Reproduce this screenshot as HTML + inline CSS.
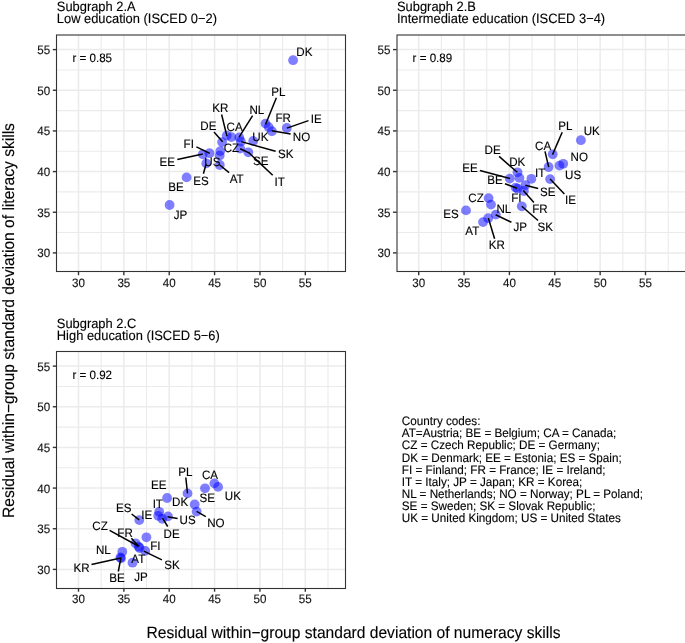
<!DOCTYPE html>
<html><head><meta charset="utf-8"><style>
html,body{margin:0;padding:0;background:#fff;width:685px;height:643px;overflow:hidden}
svg{display:block;will-change:transform}
text{font-family:"Liberation Sans", sans-serif;text-rendering:geometricPrecision;stroke-width:0.12px;paint-order:stroke}
.tk{font-size:11.6px;fill:#111;stroke:#111}
.lb{stroke:#000;font-size:11.6px;fill:#000}
.ti{stroke:#000;font-size:12.9px;fill:#000}
.ax{stroke:#000;font-size:15.6px;fill:#000}
.lg{stroke:#000;font-size:11.7px;fill:#000}
.rt{stroke:#000;font-size:11.6px;fill:#000}
</style></head><body>
<svg width="685" height="643" viewBox="0 0 685 643">
<rect width="685" height="643" fill="#fff"/>
<g>
<rect x="56.5" y="35.0" width="289.0" height="236.5" fill="#fff"/>
<line x1="101.18" y1="35.0" x2="101.18" y2="271.5" stroke="#EBEBEB" stroke-width="1.1"/>
<line x1="146.54" y1="35.0" x2="146.54" y2="271.5" stroke="#EBEBEB" stroke-width="1.1"/>
<line x1="191.90" y1="35.0" x2="191.90" y2="271.5" stroke="#EBEBEB" stroke-width="1.1"/>
<line x1="237.26" y1="35.0" x2="237.26" y2="271.5" stroke="#EBEBEB" stroke-width="1.1"/>
<line x1="282.62" y1="35.0" x2="282.62" y2="271.5" stroke="#EBEBEB" stroke-width="1.1"/>
<line x1="327.98" y1="35.0" x2="327.98" y2="271.5" stroke="#EBEBEB" stroke-width="1.1"/>
<line x1="56.5" y1="232.57" x2="345.5" y2="232.57" stroke="#EBEBEB" stroke-width="1.1"/>
<line x1="56.5" y1="191.91" x2="345.5" y2="191.91" stroke="#EBEBEB" stroke-width="1.1"/>
<line x1="56.5" y1="151.25" x2="345.5" y2="151.25" stroke="#EBEBEB" stroke-width="1.1"/>
<line x1="56.5" y1="110.59" x2="345.5" y2="110.59" stroke="#EBEBEB" stroke-width="1.1"/>
<line x1="56.5" y1="69.93" x2="345.5" y2="69.93" stroke="#EBEBEB" stroke-width="1.1"/>
<line x1="78.50" y1="35.0" x2="78.50" y2="271.5" stroke="#EBEBEB" stroke-width="1.5"/>
<line x1="56.5" y1="252.90" x2="345.5" y2="252.90" stroke="#EBEBEB" stroke-width="1.5"/>
<line x1="123.86" y1="35.0" x2="123.86" y2="271.5" stroke="#EBEBEB" stroke-width="1.5"/>
<line x1="56.5" y1="212.24" x2="345.5" y2="212.24" stroke="#EBEBEB" stroke-width="1.5"/>
<line x1="169.22" y1="35.0" x2="169.22" y2="271.5" stroke="#EBEBEB" stroke-width="1.5"/>
<line x1="56.5" y1="171.58" x2="345.5" y2="171.58" stroke="#EBEBEB" stroke-width="1.5"/>
<line x1="214.58" y1="35.0" x2="214.58" y2="271.5" stroke="#EBEBEB" stroke-width="1.5"/>
<line x1="56.5" y1="130.92" x2="345.5" y2="130.92" stroke="#EBEBEB" stroke-width="1.5"/>
<line x1="259.94" y1="35.0" x2="259.94" y2="271.5" stroke="#EBEBEB" stroke-width="1.5"/>
<line x1="56.5" y1="90.26" x2="345.5" y2="90.26" stroke="#EBEBEB" stroke-width="1.5"/>
<line x1="305.30" y1="35.0" x2="305.30" y2="271.5" stroke="#EBEBEB" stroke-width="1.5"/>
<line x1="56.5" y1="49.60" x2="345.5" y2="49.60" stroke="#EBEBEB" stroke-width="1.5"/>
</g>
<line x1="78.50" y1="271.5" x2="78.50" y2="275.2" stroke="#333" stroke-width="1.4"/>
<text transform="translate(78.50,286.70) scale(1,1.05)" text-anchor="middle" class="tk">30</text>
<line x1="52.8" y1="252.90" x2="56.5" y2="252.90" stroke="#333" stroke-width="1.4"/>
<text transform="translate(50.20,257.40) scale(1,1.05)" text-anchor="end" class="tk">30</text>
<line x1="123.86" y1="271.5" x2="123.86" y2="275.2" stroke="#333" stroke-width="1.4"/>
<text transform="translate(123.86,286.70) scale(1,1.05)" text-anchor="middle" class="tk">35</text>
<line x1="52.8" y1="212.24" x2="56.5" y2="212.24" stroke="#333" stroke-width="1.4"/>
<text transform="translate(50.20,216.74) scale(1,1.05)" text-anchor="end" class="tk">35</text>
<line x1="169.22" y1="271.5" x2="169.22" y2="275.2" stroke="#333" stroke-width="1.4"/>
<text transform="translate(169.22,286.70) scale(1,1.05)" text-anchor="middle" class="tk">40</text>
<line x1="52.8" y1="171.58" x2="56.5" y2="171.58" stroke="#333" stroke-width="1.4"/>
<text transform="translate(50.20,176.08) scale(1,1.05)" text-anchor="end" class="tk">40</text>
<line x1="214.58" y1="271.5" x2="214.58" y2="275.2" stroke="#333" stroke-width="1.4"/>
<text transform="translate(214.58,286.70) scale(1,1.05)" text-anchor="middle" class="tk">45</text>
<line x1="52.8" y1="130.92" x2="56.5" y2="130.92" stroke="#333" stroke-width="1.4"/>
<text transform="translate(50.20,135.42) scale(1,1.05)" text-anchor="end" class="tk">45</text>
<line x1="259.94" y1="271.5" x2="259.94" y2="275.2" stroke="#333" stroke-width="1.4"/>
<text transform="translate(259.94,286.70) scale(1,1.05)" text-anchor="middle" class="tk">50</text>
<line x1="52.8" y1="90.26" x2="56.5" y2="90.26" stroke="#333" stroke-width="1.4"/>
<text transform="translate(50.20,94.76) scale(1,1.05)" text-anchor="end" class="tk">50</text>
<line x1="305.30" y1="271.5" x2="305.30" y2="275.2" stroke="#333" stroke-width="1.4"/>
<text transform="translate(305.30,286.70) scale(1,1.05)" text-anchor="middle" class="tk">55</text>
<line x1="52.8" y1="49.60" x2="56.5" y2="49.60" stroke="#333" stroke-width="1.4"/>
<text transform="translate(50.20,54.10) scale(1,1.05)" text-anchor="end" class="tk">55</text>
<text transform="translate(56.80,11.10) scale(1,1.05)" class="ti">Subgraph 2.A</text>
<text transform="translate(56.80,22.90) scale(1,1.05)" class="ti">Low education (ISCED 0−2)</text>
<text transform="translate(92.20,61.80) scale(1,1.05)" text-anchor="middle" class="rt">r = 0.85</text>
<g>
<rect x="396.7" y="35.0" width="289.00000000000006" height="236.5" fill="#fff"/>
<line x1="441.38" y1="35.0" x2="441.38" y2="271.5" stroke="#EBEBEB" stroke-width="1.1"/>
<line x1="486.74" y1="35.0" x2="486.74" y2="271.5" stroke="#EBEBEB" stroke-width="1.1"/>
<line x1="532.10" y1="35.0" x2="532.10" y2="271.5" stroke="#EBEBEB" stroke-width="1.1"/>
<line x1="577.46" y1="35.0" x2="577.46" y2="271.5" stroke="#EBEBEB" stroke-width="1.1"/>
<line x1="622.82" y1="35.0" x2="622.82" y2="271.5" stroke="#EBEBEB" stroke-width="1.1"/>
<line x1="668.18" y1="35.0" x2="668.18" y2="271.5" stroke="#EBEBEB" stroke-width="1.1"/>
<line x1="396.7" y1="232.57" x2="685.7" y2="232.57" stroke="#EBEBEB" stroke-width="1.1"/>
<line x1="396.7" y1="191.91" x2="685.7" y2="191.91" stroke="#EBEBEB" stroke-width="1.1"/>
<line x1="396.7" y1="151.25" x2="685.7" y2="151.25" stroke="#EBEBEB" stroke-width="1.1"/>
<line x1="396.7" y1="110.59" x2="685.7" y2="110.59" stroke="#EBEBEB" stroke-width="1.1"/>
<line x1="396.7" y1="69.93" x2="685.7" y2="69.93" stroke="#EBEBEB" stroke-width="1.1"/>
<line x1="418.70" y1="35.0" x2="418.70" y2="271.5" stroke="#EBEBEB" stroke-width="1.5"/>
<line x1="396.7" y1="252.90" x2="685.7" y2="252.90" stroke="#EBEBEB" stroke-width="1.5"/>
<line x1="464.06" y1="35.0" x2="464.06" y2="271.5" stroke="#EBEBEB" stroke-width="1.5"/>
<line x1="396.7" y1="212.24" x2="685.7" y2="212.24" stroke="#EBEBEB" stroke-width="1.5"/>
<line x1="509.42" y1="35.0" x2="509.42" y2="271.5" stroke="#EBEBEB" stroke-width="1.5"/>
<line x1="396.7" y1="171.58" x2="685.7" y2="171.58" stroke="#EBEBEB" stroke-width="1.5"/>
<line x1="554.78" y1="35.0" x2="554.78" y2="271.5" stroke="#EBEBEB" stroke-width="1.5"/>
<line x1="396.7" y1="130.92" x2="685.7" y2="130.92" stroke="#EBEBEB" stroke-width="1.5"/>
<line x1="600.14" y1="35.0" x2="600.14" y2="271.5" stroke="#EBEBEB" stroke-width="1.5"/>
<line x1="396.7" y1="90.26" x2="685.7" y2="90.26" stroke="#EBEBEB" stroke-width="1.5"/>
<line x1="645.50" y1="35.0" x2="645.50" y2="271.5" stroke="#EBEBEB" stroke-width="1.5"/>
<line x1="396.7" y1="49.60" x2="685.7" y2="49.60" stroke="#EBEBEB" stroke-width="1.5"/>
</g>
<line x1="418.70" y1="271.5" x2="418.70" y2="275.2" stroke="#333" stroke-width="1.4"/>
<text transform="translate(418.70,286.70) scale(1,1.05)" text-anchor="middle" class="tk">30</text>
<line x1="393.0" y1="252.90" x2="396.7" y2="252.90" stroke="#333" stroke-width="1.4"/>
<text transform="translate(390.40,257.40) scale(1,1.05)" text-anchor="end" class="tk">30</text>
<line x1="464.06" y1="271.5" x2="464.06" y2="275.2" stroke="#333" stroke-width="1.4"/>
<text transform="translate(464.06,286.70) scale(1,1.05)" text-anchor="middle" class="tk">35</text>
<line x1="393.0" y1="212.24" x2="396.7" y2="212.24" stroke="#333" stroke-width="1.4"/>
<text transform="translate(390.40,216.74) scale(1,1.05)" text-anchor="end" class="tk">35</text>
<line x1="509.42" y1="271.5" x2="509.42" y2="275.2" stroke="#333" stroke-width="1.4"/>
<text transform="translate(509.42,286.70) scale(1,1.05)" text-anchor="middle" class="tk">40</text>
<line x1="393.0" y1="171.58" x2="396.7" y2="171.58" stroke="#333" stroke-width="1.4"/>
<text transform="translate(390.40,176.08) scale(1,1.05)" text-anchor="end" class="tk">40</text>
<line x1="554.78" y1="271.5" x2="554.78" y2="275.2" stroke="#333" stroke-width="1.4"/>
<text transform="translate(554.78,286.70) scale(1,1.05)" text-anchor="middle" class="tk">45</text>
<line x1="393.0" y1="130.92" x2="396.7" y2="130.92" stroke="#333" stroke-width="1.4"/>
<text transform="translate(390.40,135.42) scale(1,1.05)" text-anchor="end" class="tk">45</text>
<line x1="600.14" y1="271.5" x2="600.14" y2="275.2" stroke="#333" stroke-width="1.4"/>
<text transform="translate(600.14,286.70) scale(1,1.05)" text-anchor="middle" class="tk">50</text>
<line x1="393.0" y1="90.26" x2="396.7" y2="90.26" stroke="#333" stroke-width="1.4"/>
<text transform="translate(390.40,94.76) scale(1,1.05)" text-anchor="end" class="tk">50</text>
<line x1="645.50" y1="271.5" x2="645.50" y2="275.2" stroke="#333" stroke-width="1.4"/>
<text transform="translate(645.50,286.70) scale(1,1.05)" text-anchor="middle" class="tk">55</text>
<line x1="393.0" y1="49.60" x2="396.7" y2="49.60" stroke="#333" stroke-width="1.4"/>
<text transform="translate(390.40,54.10) scale(1,1.05)" text-anchor="end" class="tk">55</text>
<text transform="translate(397.00,11.10) scale(1,1.05)" class="ti">Subgraph 2.B</text>
<text transform="translate(397.00,22.90) scale(1,1.05)" class="ti">Intermediate education (ISCED 3−4)</text>
<text transform="translate(432.40,61.80) scale(1,1.05)" text-anchor="middle" class="rt">r = 0.89</text>
<g>
<rect x="56.5" y="351.5" width="289.0" height="236.5" fill="#fff"/>
<line x1="101.18" y1="351.5" x2="101.18" y2="588.0" stroke="#EBEBEB" stroke-width="1.1"/>
<line x1="146.54" y1="351.5" x2="146.54" y2="588.0" stroke="#EBEBEB" stroke-width="1.1"/>
<line x1="191.90" y1="351.5" x2="191.90" y2="588.0" stroke="#EBEBEB" stroke-width="1.1"/>
<line x1="237.26" y1="351.5" x2="237.26" y2="588.0" stroke="#EBEBEB" stroke-width="1.1"/>
<line x1="282.62" y1="351.5" x2="282.62" y2="588.0" stroke="#EBEBEB" stroke-width="1.1"/>
<line x1="327.98" y1="351.5" x2="327.98" y2="588.0" stroke="#EBEBEB" stroke-width="1.1"/>
<line x1="56.5" y1="549.07" x2="345.5" y2="549.07" stroke="#EBEBEB" stroke-width="1.1"/>
<line x1="56.5" y1="508.41" x2="345.5" y2="508.41" stroke="#EBEBEB" stroke-width="1.1"/>
<line x1="56.5" y1="467.75" x2="345.5" y2="467.75" stroke="#EBEBEB" stroke-width="1.1"/>
<line x1="56.5" y1="427.09" x2="345.5" y2="427.09" stroke="#EBEBEB" stroke-width="1.1"/>
<line x1="56.5" y1="386.43" x2="345.5" y2="386.43" stroke="#EBEBEB" stroke-width="1.1"/>
<line x1="78.50" y1="351.5" x2="78.50" y2="588.0" stroke="#EBEBEB" stroke-width="1.5"/>
<line x1="56.5" y1="569.40" x2="345.5" y2="569.40" stroke="#EBEBEB" stroke-width="1.5"/>
<line x1="123.86" y1="351.5" x2="123.86" y2="588.0" stroke="#EBEBEB" stroke-width="1.5"/>
<line x1="56.5" y1="528.74" x2="345.5" y2="528.74" stroke="#EBEBEB" stroke-width="1.5"/>
<line x1="169.22" y1="351.5" x2="169.22" y2="588.0" stroke="#EBEBEB" stroke-width="1.5"/>
<line x1="56.5" y1="488.08" x2="345.5" y2="488.08" stroke="#EBEBEB" stroke-width="1.5"/>
<line x1="214.58" y1="351.5" x2="214.58" y2="588.0" stroke="#EBEBEB" stroke-width="1.5"/>
<line x1="56.5" y1="447.42" x2="345.5" y2="447.42" stroke="#EBEBEB" stroke-width="1.5"/>
<line x1="259.94" y1="351.5" x2="259.94" y2="588.0" stroke="#EBEBEB" stroke-width="1.5"/>
<line x1="56.5" y1="406.76" x2="345.5" y2="406.76" stroke="#EBEBEB" stroke-width="1.5"/>
<line x1="305.30" y1="351.5" x2="305.30" y2="588.0" stroke="#EBEBEB" stroke-width="1.5"/>
<line x1="56.5" y1="366.10" x2="345.5" y2="366.10" stroke="#EBEBEB" stroke-width="1.5"/>
</g>
<line x1="78.50" y1="588.0" x2="78.50" y2="591.7" stroke="#333" stroke-width="1.4"/>
<text transform="translate(78.50,603.20) scale(1,1.05)" text-anchor="middle" class="tk">30</text>
<line x1="52.8" y1="569.40" x2="56.5" y2="569.40" stroke="#333" stroke-width="1.4"/>
<text transform="translate(50.20,573.90) scale(1,1.05)" text-anchor="end" class="tk">30</text>
<line x1="123.86" y1="588.0" x2="123.86" y2="591.7" stroke="#333" stroke-width="1.4"/>
<text transform="translate(123.86,603.20) scale(1,1.05)" text-anchor="middle" class="tk">35</text>
<line x1="52.8" y1="528.74" x2="56.5" y2="528.74" stroke="#333" stroke-width="1.4"/>
<text transform="translate(50.20,533.24) scale(1,1.05)" text-anchor="end" class="tk">35</text>
<line x1="169.22" y1="588.0" x2="169.22" y2="591.7" stroke="#333" stroke-width="1.4"/>
<text transform="translate(169.22,603.20) scale(1,1.05)" text-anchor="middle" class="tk">40</text>
<line x1="52.8" y1="488.08" x2="56.5" y2="488.08" stroke="#333" stroke-width="1.4"/>
<text transform="translate(50.20,492.58) scale(1,1.05)" text-anchor="end" class="tk">40</text>
<line x1="214.58" y1="588.0" x2="214.58" y2="591.7" stroke="#333" stroke-width="1.4"/>
<text transform="translate(214.58,603.20) scale(1,1.05)" text-anchor="middle" class="tk">45</text>
<line x1="52.8" y1="447.42" x2="56.5" y2="447.42" stroke="#333" stroke-width="1.4"/>
<text transform="translate(50.20,451.92) scale(1,1.05)" text-anchor="end" class="tk">45</text>
<line x1="259.94" y1="588.0" x2="259.94" y2="591.7" stroke="#333" stroke-width="1.4"/>
<text transform="translate(259.94,603.20) scale(1,1.05)" text-anchor="middle" class="tk">50</text>
<line x1="52.8" y1="406.76" x2="56.5" y2="406.76" stroke="#333" stroke-width="1.4"/>
<text transform="translate(50.20,411.26) scale(1,1.05)" text-anchor="end" class="tk">50</text>
<line x1="305.30" y1="588.0" x2="305.30" y2="591.7" stroke="#333" stroke-width="1.4"/>
<text transform="translate(305.30,603.20) scale(1,1.05)" text-anchor="middle" class="tk">55</text>
<line x1="52.8" y1="366.10" x2="56.5" y2="366.10" stroke="#333" stroke-width="1.4"/>
<text transform="translate(50.20,370.60) scale(1,1.05)" text-anchor="end" class="tk">55</text>
<text transform="translate(56.80,327.60) scale(1,1.05)" class="ti">Subgraph 2.C</text>
<text transform="translate(56.80,339.90) scale(1,1.05)" class="ti">High education (ISCED 5−6)</text>
<text transform="translate(92.20,378.90) scale(1,1.05)" text-anchor="middle" class="rt">r = 0.92</text>
<circle cx="293.1" cy="60.2" r="4.9" fill="rgb(0,0,255)" fill-opacity="0.5"/>
<circle cx="265.5" cy="123.6" r="4.9" fill="rgb(0,0,255)" fill-opacity="0.5"/>
<circle cx="268.7" cy="127.1" r="4.9" fill="rgb(0,0,255)" fill-opacity="0.5"/>
<circle cx="271.9" cy="131.2" r="4.9" fill="rgb(0,0,255)" fill-opacity="0.5"/>
<circle cx="286.8" cy="128.0" r="4.9" fill="rgb(0,0,255)" fill-opacity="0.5"/>
<circle cx="253.2" cy="141.0" r="4.9" fill="rgb(0,0,255)" fill-opacity="0.5"/>
<circle cx="226.7" cy="135.6" r="4.9" fill="rgb(0,0,255)" fill-opacity="0.5"/>
<circle cx="231.4" cy="137.1" r="4.9" fill="rgb(0,0,255)" fill-opacity="0.5"/>
<circle cx="239.3" cy="137.4" r="4.9" fill="rgb(0,0,255)" fill-opacity="0.5"/>
<circle cx="222.1" cy="142.1" r="4.9" fill="rgb(0,0,255)" fill-opacity="0.5"/>
<circle cx="240.9" cy="141.5" r="4.9" fill="rgb(0,0,255)" fill-opacity="0.5"/>
<circle cx="240.1" cy="148.5" r="4.9" fill="rgb(0,0,255)" fill-opacity="0.5"/>
<circle cx="248.3" cy="152.3" r="4.9" fill="rgb(0,0,255)" fill-opacity="0.5"/>
<circle cx="220.3" cy="151.1" r="4.9" fill="rgb(0,0,255)" fill-opacity="0.5"/>
<circle cx="219.7" cy="155.6" r="4.9" fill="rgb(0,0,255)" fill-opacity="0.5"/>
<circle cx="209.5" cy="153.2" r="4.9" fill="rgb(0,0,255)" fill-opacity="0.5"/>
<circle cx="202.8" cy="154.3" r="4.9" fill="rgb(0,0,255)" fill-opacity="0.5"/>
<circle cx="206.3" cy="163.4" r="4.9" fill="rgb(0,0,255)" fill-opacity="0.5"/>
<circle cx="219.8" cy="165.0" r="4.9" fill="rgb(0,0,255)" fill-opacity="0.5"/>
<circle cx="186.6" cy="177.4" r="4.9" fill="rgb(0,0,255)" fill-opacity="0.5"/>
<circle cx="169.6" cy="205.0" r="4.9" fill="rgb(0,0,255)" fill-opacity="0.5"/>
<line x1="276.4" y1="97.8" x2="265.5" y2="124.5" stroke="#000" stroke-width="1.5" stroke-linecap="butt"/>
<line x1="308.5" y1="120.6" x2="286.9" y2="128.1" stroke="#000" stroke-width="1.5" stroke-linecap="butt"/>
<line x1="271.7" y1="130.8" x2="290.6" y2="134.0" stroke="#000" stroke-width="1.5" stroke-linecap="butt"/>
<line x1="221.6" y1="114.5" x2="226.9" y2="136.1" stroke="#000" stroke-width="1.5" stroke-linecap="butt"/>
<line x1="252.6" y1="115.6" x2="239.1" y2="137.2" stroke="#000" stroke-width="1.5" stroke-linecap="butt"/>
<line x1="214.0" y1="131.9" x2="222.6" y2="141.7" stroke="#000" stroke-width="1.5" stroke-linecap="butt"/>
<line x1="241.2" y1="141.6" x2="275.6" y2="151.3" stroke="#000" stroke-width="1.5" stroke-linecap="butt"/>
<line x1="248.4" y1="152.3" x2="272.7" y2="175.3" stroke="#000" stroke-width="1.5" stroke-linecap="butt"/>
<line x1="240.2" y1="148.7" x2="249.0" y2="152.9" stroke="#000" stroke-width="1.5" stroke-linecap="butt"/>
<line x1="196.4" y1="146.9" x2="209.8" y2="153.4" stroke="#000" stroke-width="1.5" stroke-linecap="butt"/>
<line x1="177.3" y1="159.4" x2="202.8" y2="154.0" stroke="#000" stroke-width="1.5" stroke-linecap="butt"/>
<line x1="203.4" y1="173.8" x2="205.9" y2="164.5" stroke="#000" stroke-width="1.5" stroke-linecap="butt"/>
<line x1="219.7" y1="165.0" x2="229.1" y2="172.6" stroke="#000" stroke-width="1.5" stroke-linecap="butt"/>
<text transform="translate(304.35,56.20) scale(1,1.05)" text-anchor="middle" class="lb">DK</text>
<text transform="translate(278.40,96.20) scale(1,1.05)" text-anchor="middle" class="lb">PL</text>
<text transform="translate(283.20,122.20) scale(1,1.05)" text-anchor="middle" class="lb">FR</text>
<text transform="translate(316.20,123.00) scale(1,1.05)" text-anchor="middle" class="lb">IE</text>
<text transform="translate(301.50,140.60) scale(1,1.05)" text-anchor="middle" class="lb">NO</text>
<text transform="translate(260.40,140.50) scale(1,1.05)" text-anchor="middle" class="lb">UK</text>
<text transform="translate(220.30,111.90) scale(1,1.05)" text-anchor="middle" class="lb">KR</text>
<text transform="translate(256.80,113.70) scale(1,1.05)" text-anchor="middle" class="lb">NL</text>
<text transform="translate(234.60,130.90) scale(1,1.05)" text-anchor="middle" class="lb">CA</text>
<text transform="translate(208.35,130.30) scale(1,1.05)" text-anchor="middle" class="lb">DE</text>
<text transform="translate(231.40,152.00) scale(1,1.05)" text-anchor="middle" class="lb">CZ</text>
<text transform="translate(285.80,158.40) scale(1,1.05)" text-anchor="middle" class="lb">SK</text>
<text transform="translate(260.70,165.40) scale(1,1.05)" text-anchor="middle" class="lb">SE</text>
<text transform="translate(279.60,186.20) scale(1,1.05)" text-anchor="middle" class="lb">IT</text>
<text transform="translate(188.75,147.90) scale(1,1.05)" text-anchor="middle" class="lb">FI</text>
<text transform="translate(167.30,165.90) scale(1,1.05)" text-anchor="middle" class="lb">EE</text>
<text transform="translate(212.40,166.00) scale(1,1.05)" text-anchor="middle" class="lb">US</text>
<text transform="translate(201.00,185.00) scale(1,1.05)" text-anchor="middle" class="lb">ES</text>
<text transform="translate(236.65,183.00) scale(1,1.05)" text-anchor="middle" class="lb">AT</text>
<text transform="translate(176.00,191.30) scale(1,1.05)" text-anchor="middle" class="lb">BE</text>
<text transform="translate(180.55,218.60) scale(1,1.05)" text-anchor="middle" class="lb">JP</text>
<circle cx="580.9" cy="140.2" r="4.9" fill="rgb(0,0,255)" fill-opacity="0.5"/>
<circle cx="552.7" cy="154.3" r="4.9" fill="rgb(0,0,255)" fill-opacity="0.5"/>
<circle cx="563.2" cy="163.8" r="4.9" fill="rgb(0,0,255)" fill-opacity="0.5"/>
<circle cx="559.5" cy="165.6" r="4.9" fill="rgb(0,0,255)" fill-opacity="0.5"/>
<circle cx="548.6" cy="167.0" r="4.9" fill="rgb(0,0,255)" fill-opacity="0.5"/>
<circle cx="550.1" cy="179.1" r="4.9" fill="rgb(0,0,255)" fill-opacity="0.5"/>
<circle cx="531.4" cy="178.8" r="4.9" fill="rgb(0,0,255)" fill-opacity="0.5"/>
<circle cx="517.5" cy="172.3" r="4.9" fill="rgb(0,0,255)" fill-opacity="0.5"/>
<circle cx="509.8" cy="178.6" r="4.9" fill="rgb(0,0,255)" fill-opacity="0.5"/>
<circle cx="519.4" cy="177.9" r="4.9" fill="rgb(0,0,255)" fill-opacity="0.5"/>
<circle cx="525.4" cy="185.1" r="4.9" fill="rgb(0,0,255)" fill-opacity="0.5"/>
<circle cx="515.6" cy="187.6" r="4.9" fill="rgb(0,0,255)" fill-opacity="0.5"/>
<circle cx="517.6" cy="188.6" r="4.9" fill="rgb(0,0,255)" fill-opacity="0.5"/>
<circle cx="523.9" cy="191.0" r="4.9" fill="rgb(0,0,255)" fill-opacity="0.5"/>
<circle cx="521.8" cy="206.3" r="4.9" fill="rgb(0,0,255)" fill-opacity="0.5"/>
<circle cx="488.6" cy="198.1" r="4.9" fill="rgb(0,0,255)" fill-opacity="0.5"/>
<circle cx="491.0" cy="204.6" r="4.9" fill="rgb(0,0,255)" fill-opacity="0.5"/>
<circle cx="495.8" cy="214.6" r="4.9" fill="rgb(0,0,255)" fill-opacity="0.5"/>
<circle cx="488.2" cy="218.2" r="4.9" fill="rgb(0,0,255)" fill-opacity="0.5"/>
<circle cx="483.0" cy="222.1" r="4.9" fill="rgb(0,0,255)" fill-opacity="0.5"/>
<circle cx="466.0" cy="210.4" r="4.9" fill="rgb(0,0,255)" fill-opacity="0.5"/>
<line x1="562.2" y1="132.2" x2="552.5" y2="154.6" stroke="#000" stroke-width="1.5" stroke-linecap="butt"/>
<line x1="545.0" y1="151.4" x2="548.7" y2="167.2" stroke="#000" stroke-width="1.5" stroke-linecap="butt"/>
<line x1="550.1" y1="179.1" x2="564.4" y2="193.9" stroke="#000" stroke-width="1.5" stroke-linecap="butt"/>
<line x1="525.3" y1="185.3" x2="538.2" y2="188.4" stroke="#000" stroke-width="1.5" stroke-linecap="butt"/>
<line x1="499.1" y1="156.4" x2="517.3" y2="172.3" stroke="#000" stroke-width="1.5" stroke-linecap="butt"/>
<line x1="479.9" y1="170.6" x2="510.0" y2="178.5" stroke="#000" stroke-width="1.5" stroke-linecap="butt"/>
<line x1="505.0" y1="183.8" x2="517.0" y2="188.2" stroke="#000" stroke-width="1.5" stroke-linecap="butt"/>
<line x1="523.3" y1="190.6" x2="533.9" y2="202.4" stroke="#000" stroke-width="1.5" stroke-linecap="butt"/>
<line x1="521.8" y1="206.3" x2="538.0" y2="220.5" stroke="#000" stroke-width="1.5" stroke-linecap="butt"/>
<line x1="495.6" y1="214.8" x2="511.4" y2="222.3" stroke="#000" stroke-width="1.5" stroke-linecap="butt"/>
<line x1="488.3" y1="218.0" x2="494.6" y2="238.8" stroke="#000" stroke-width="1.5" stroke-linecap="butt"/>
<text transform="translate(591.70,134.90) scale(1,1.05)" text-anchor="middle" class="lb">UK</text>
<text transform="translate(565.25,130.00) scale(1,1.05)" text-anchor="middle" class="lb">PL</text>
<text transform="translate(579.30,160.80) scale(1,1.05)" text-anchor="middle" class="lb">NO</text>
<text transform="translate(543.15,149.50) scale(1,1.05)" text-anchor="middle" class="lb">CA</text>
<text transform="translate(540.15,177.20) scale(1,1.05)" text-anchor="middle" class="lb">IT</text>
<text transform="translate(573.10,178.70) scale(1,1.05)" text-anchor="middle" class="lb">US</text>
<text transform="translate(570.50,204.30) scale(1,1.05)" text-anchor="middle" class="lb">IE</text>
<text transform="translate(547.80,195.60) scale(1,1.05)" text-anchor="middle" class="lb">SE</text>
<text transform="translate(492.60,154.40) scale(1,1.05)" text-anchor="middle" class="lb">DE</text>
<text transform="translate(517.20,166.30) scale(1,1.05)" text-anchor="middle" class="lb">DK</text>
<text transform="translate(469.95,171.90) scale(1,1.05)" text-anchor="middle" class="lb">EE</text>
<text transform="translate(495.05,183.80) scale(1,1.05)" text-anchor="middle" class="lb">BE</text>
<text transform="translate(516.35,202.00) scale(1,1.05)" text-anchor="middle" class="lb">FI</text>
<text transform="translate(539.95,213.30) scale(1,1.05)" text-anchor="middle" class="lb">FR</text>
<text transform="translate(545.30,231.20) scale(1,1.05)" text-anchor="middle" class="lb">SK</text>
<text transform="translate(476.10,202.00) scale(1,1.05)" text-anchor="middle" class="lb">CZ</text>
<text transform="translate(503.80,212.90) scale(1,1.05)" text-anchor="middle" class="lb">NL</text>
<text transform="translate(520.30,231.20) scale(1,1.05)" text-anchor="middle" class="lb">JP</text>
<text transform="translate(472.30,235.40) scale(1,1.05)" text-anchor="middle" class="lb">AT</text>
<text transform="translate(451.05,218.10) scale(1,1.05)" text-anchor="middle" class="lb">ES</text>
<text transform="translate(496.90,249.40) scale(1,1.05)" text-anchor="middle" class="lb">KR</text>
<circle cx="214.4" cy="483.4" r="4.9" fill="rgb(0,0,255)" fill-opacity="0.5"/>
<circle cx="218.1" cy="486.9" r="4.9" fill="rgb(0,0,255)" fill-opacity="0.5"/>
<circle cx="205.0" cy="488.3" r="4.9" fill="rgb(0,0,255)" fill-opacity="0.5"/>
<circle cx="187.5" cy="493.4" r="4.9" fill="rgb(0,0,255)" fill-opacity="0.5"/>
<circle cx="194.7" cy="504.5" r="4.9" fill="rgb(0,0,255)" fill-opacity="0.5"/>
<circle cx="196.7" cy="511.6" r="4.9" fill="rgb(0,0,255)" fill-opacity="0.5"/>
<circle cx="167.1" cy="498.0" r="4.9" fill="rgb(0,0,255)" fill-opacity="0.5"/>
<circle cx="159.2" cy="511.8" r="4.9" fill="rgb(0,0,255)" fill-opacity="0.5"/>
<circle cx="158.2" cy="515.8" r="4.9" fill="rgb(0,0,255)" fill-opacity="0.5"/>
<circle cx="162.3" cy="518.8" r="4.9" fill="rgb(0,0,255)" fill-opacity="0.5"/>
<circle cx="168.0" cy="516.4" r="4.9" fill="rgb(0,0,255)" fill-opacity="0.5"/>
<circle cx="139.3" cy="520.1" r="4.9" fill="rgb(0,0,255)" fill-opacity="0.5"/>
<circle cx="146.4" cy="537.3" r="4.9" fill="rgb(0,0,255)" fill-opacity="0.5"/>
<circle cx="135.5" cy="543.3" r="4.9" fill="rgb(0,0,255)" fill-opacity="0.5"/>
<circle cx="138.6" cy="546.6" r="4.9" fill="rgb(0,0,255)" fill-opacity="0.5"/>
<circle cx="139.6" cy="548.0" r="4.9" fill="rgb(0,0,255)" fill-opacity="0.5"/>
<circle cx="145.2" cy="550.9" r="4.9" fill="rgb(0,0,255)" fill-opacity="0.5"/>
<circle cx="122.3" cy="551.8" r="4.9" fill="rgb(0,0,255)" fill-opacity="0.5"/>
<circle cx="120.4" cy="557.5" r="4.9" fill="rgb(0,0,255)" fill-opacity="0.5"/>
<circle cx="121.0" cy="558.4" r="4.9" fill="rgb(0,0,255)" fill-opacity="0.5"/>
<circle cx="132.5" cy="562.7" r="4.9" fill="rgb(0,0,255)" fill-opacity="0.5"/>
<line x1="185.8" y1="477.5" x2="187.5" y2="493.3" stroke="#000" stroke-width="1.5" stroke-linecap="butt"/>
<line x1="196.6" y1="511.4" x2="205.8" y2="516.6" stroke="#000" stroke-width="1.5" stroke-linecap="butt"/>
<line x1="167.5" y1="516.8" x2="177.6" y2="518.4" stroke="#000" stroke-width="1.5" stroke-linecap="butt"/>
<line x1="162.5" y1="518.1" x2="167.7" y2="526.5" stroke="#000" stroke-width="1.5" stroke-linecap="butt"/>
<line x1="131.6" y1="514.0" x2="139.2" y2="519.9" stroke="#000" stroke-width="1.5" stroke-linecap="butt"/>
<line x1="109.6" y1="530.3" x2="138.2" y2="546.0" stroke="#000" stroke-width="1.5" stroke-linecap="butt"/>
<line x1="131.4" y1="538.2" x2="138.7" y2="546.5" stroke="#000" stroke-width="1.5" stroke-linecap="butt"/>
<line x1="143.8" y1="551.1" x2="161.9" y2="559.9" stroke="#000" stroke-width="1.5" stroke-linecap="butt"/>
<line x1="91.5" y1="564.6" x2="120.7" y2="558.0" stroke="#000" stroke-width="1.5" stroke-linecap="butt"/>
<line x1="121.0" y1="557.5" x2="118.3" y2="571.5" stroke="#000" stroke-width="1.5" stroke-linecap="butt"/>
<text transform="translate(185.40,476.20) scale(1,1.05)" text-anchor="middle" class="lb">PL</text>
<text transform="translate(210.00,479.10) scale(1,1.05)" text-anchor="middle" class="lb">CA</text>
<text transform="translate(158.80,489.10) scale(1,1.05)" text-anchor="middle" class="lb">EE</text>
<text transform="translate(207.35,501.90) scale(1,1.05)" text-anchor="middle" class="lb">SE</text>
<text transform="translate(232.90,500.10) scale(1,1.05)" text-anchor="middle" class="lb">UK</text>
<text transform="translate(180.10,506.30) scale(1,1.05)" text-anchor="middle" class="lb">DK</text>
<text transform="translate(157.80,507.50) scale(1,1.05)" text-anchor="middle" class="lb">IT</text>
<text transform="translate(123.85,512.10) scale(1,1.05)" text-anchor="middle" class="lb">ES</text>
<text transform="translate(146.65,519.00) scale(1,1.05)" text-anchor="middle" class="lb">IE</text>
<text transform="translate(187.60,524.10) scale(1,1.05)" text-anchor="middle" class="lb">US</text>
<text transform="translate(215.85,527.40) scale(1,1.05)" text-anchor="middle" class="lb">NO</text>
<text transform="translate(100.05,529.70) scale(1,1.05)" text-anchor="middle" class="lb">CZ</text>
<text transform="translate(125.10,537.30) scale(1,1.05)" text-anchor="middle" class="lb">FR</text>
<text transform="translate(171.60,538.00) scale(1,1.05)" text-anchor="middle" class="lb">DE</text>
<text transform="translate(155.30,550.20) scale(1,1.05)" text-anchor="middle" class="lb">FI</text>
<text transform="translate(103.30,554.30) scale(1,1.05)" text-anchor="middle" class="lb">NL</text>
<text transform="translate(138.25,562.60) scale(1,1.05)" text-anchor="middle" class="lb">AT</text>
<text transform="translate(171.95,569.00) scale(1,1.05)" text-anchor="middle" class="lb">SK</text>
<text transform="translate(81.50,572.00) scale(1,1.05)" text-anchor="middle" class="lb">KR</text>
<text transform="translate(117.10,581.90) scale(1,1.05)" text-anchor="middle" class="lb">BE</text>
<text transform="translate(140.90,581.30) scale(1,1.05)" text-anchor="middle" class="lb">JP</text>
<rect x="56.5" y="35.0" width="289.0" height="236.5" fill="none" stroke="#333" stroke-width="1.1"/>
<rect x="397.0" y="35.0" width="291.0" height="236.5" fill="none" stroke="#333" stroke-width="1.1"/>
<rect x="56.5" y="351.5" width="289.0" height="237.0" fill="none" stroke="#333" stroke-width="1.1"/>
<text transform="translate(401.80,425.00) scale(1,1.05)" class="lg">Country codes:</text>
<text transform="translate(401.80,437.17) scale(1,1.05)" class="lg">AT=Austria; BE = Belgium; CA = Canada;</text>
<text transform="translate(401.80,449.34) scale(1,1.05)" class="lg">CZ = Czech Republic; DE = Germany;</text>
<text transform="translate(401.80,461.51) scale(1,1.05)" class="lg">DK = Denmark; EE = Estonia; ES = Spain;</text>
<text transform="translate(401.80,473.68) scale(1,1.05)" class="lg">FI = Finland; FR = France; IE = Ireland;</text>
<text transform="translate(401.80,485.85) scale(1,1.05)" class="lg">IT = Italy; JP = Japan; KR = Korea;</text>
<text transform="translate(401.80,498.02) scale(1,1.05)" class="lg">NL = Netherlands; NO = Norway; PL = Poland;</text>
<text transform="translate(401.80,510.19) scale(1,1.05)" class="lg">SE = Sweden; SK = Slovak Republic;</text>
<text transform="translate(401.80,522.36) scale(1,1.05)" class="lg">UK = United Kingdom; US = United States</text>
<text transform="translate(353.50,638.20) scale(1,1.05)" text-anchor="middle" class="ax">Residual within−group standard deviation of numeracy skills</text>
<text transform="translate(14.20,320.50) rotate(-90) scale(1,1.05)" text-anchor="middle" class="ax">Residual within−group standard deviation of literacy skills</text>
</svg>
</body></html>
